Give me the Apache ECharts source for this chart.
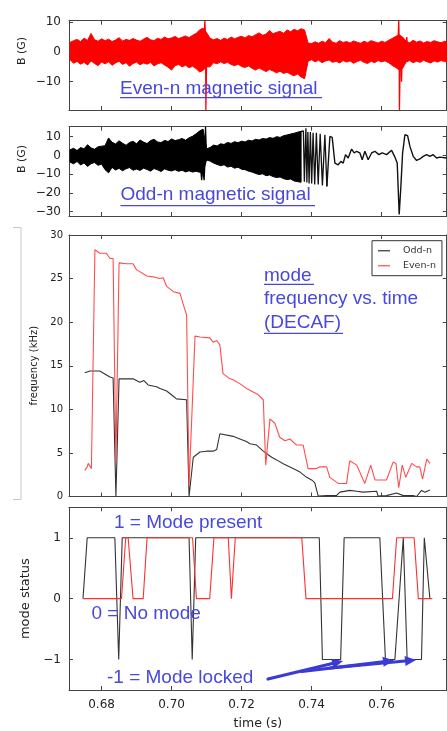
<!DOCTYPE html>
<html><head><meta charset="utf-8">
<script src="https://cdn.jsdelivr.net/npm/echarts@6/dist/echarts.min.js"></script>
<style>html,body{margin:0;padding:0;background:#fff}#c{width:447px;height:731px}</style>
</head><body><div id="c"></div>
<script>
// ---------- axis ranges / ticks ----------
const tMin = 0.6707, tMax = 0.7786;
const timeTicks = [0.68, 0.70, 0.72, 0.74, 0.76];
const evenTicks = [-10, 0, 10];
const oddTicks = [-30, -20, -10, 0, 10];
const freqTicks = [0, 5, 10, 15, 20, 25, 30];
const modeTicks = [-1, 0, 1];

// ---------- magnetic signals: envelope (upper / lower) read at 1 ms steps from 0.671 s ----------
const sigT0 = 0.671, sigStep = 0.001;
const evenHi = [3.2,3.8,4.2,3.5,4.6,3.9,6.2,4.1,3.6,4.4,
  3.8,4.3,3.5,4.0,4.8,3.7,4.2,3.9,4.5,4.0,
  3.6,4.3,4.9,4.1,3.8,4.6,4.2,5.0,4.4,4.7,
  5.2,4.5,4.9,5.4,4.8,5.6,6.2,7.4,8.0,6.5,
  4.6,4.1,4.5,3.9,4.6,4.2,5.0,4.4,4.9,5.3,
  4.7,5.5,5.1,5.8,6.4,5.6,6.0,7.2,6.1,6.6,
  6.9,6.3,7.4,6.8,7.6,7.1,7.8,7.4,3.0,2.8,
  3.4,2.9,3.6,3.1,4.5,3.3,2.9,3.8,3.2,3.5,
  3.0,3.7,3.3,2.9,3.6,3.1,3.8,3.4,3.0,3.6,
  3.2,3.9,4.5,5.2,5.8,5.0,3.6,3.1,3.9,3.3,
  3.7,3.0,3.5,3.2,3.8,3.4,3.1,3.6,3.3];
const evenLo = [-2.6,-3.8,-3.2,-4.1,-3.5,-4.4,-3.0,-3.9,-4.6,-3.4,
  -4.0,-3.3,-4.5,-3.7,-3.1,-4.2,-3.6,-4.8,-3.9,-3.4,
  -4.3,-3.7,-4.1,-3.5,-4.7,-4.0,-3.6,-4.4,-5.1,-6.1,
  -4.6,-4.2,-5.0,-4.5,-5.3,-4.8,-5.6,-6.7,-6.2,-5.0,
  -5.0,-3.6,-4.0,-3.3,-3.9,-3.5,-4.2,-4.6,-4.1,-4.9,
  -5.2,-4.7,-5.5,-6.1,-5.4,-6.0,-6.6,-5.9,-6.4,-7.0,
  -6.5,-7.2,-6.8,-7.5,-8.0,-7.4,-8.4,-9.0,-3.1,-2.6,
  -3.3,-2.8,-3.6,-3.0,-2.7,-3.5,-3.1,-3.7,-2.9,-3.4,
  -3.0,-3.8,-3.2,-2.8,-3.5,-3.9,-3.1,-3.6,-2.9,-3.3,
  -3.0,-3.6,-4.5,-5.2,-6.0,-5.5,-3.4,-2.9,-3.6,-3.1,
  -3.5,-2.8,-3.3,-3.7,-3.0,-3.4,-2.9,-3.2,-3.5];
// narrow spikes (times in s, field in G)
const evenSpike1T = [0.7093,0.7095,0.7097,0.7098,0.7100];
const evenSpike1V = [4,10.5,6,-19.5,-4];
const evenSpike2T = [0.7647,0.7649,0.7650,0.7651,0.7653,0.7655,0.7657,0.7659,0.7670,0.7672,0.7674];
const evenSpike2V = [4,10.5,5,-19.5,-3,5,-10,0,2,5,1];

const oddHi = [3.0,3.8,2.6,4.2,3.5,5.7,4.0,3.3,4.6,4.9,
  5.2,9.3,7.0,6.1,7.8,6.5,5.4,6.9,7.5,6.2,
  8.2,7.1,6.3,7.9,8.6,7.2,6.8,8.0,7.4,8.8,
  7.9,8.4,9.0,8.1,9.4,10.2,11.5,13.0,14.0,3.5,
  4.2,5.5,5.0,6.2,5.8,6.9,6.4,7.3,6.8,7.6,
  7.2,8.1,7.7,8.6,8.2,9.0,8.7,9.5,9.1,10.0,
  9.6,10.5,10.9,11.4,11.8,12.4,12.8];
const oddLo = [-3.6,-4.5,-3.2,-5.1,-4.0,-5.9,-4.4,-3.8,-5.3,-4.6,
  -7.6,-9.3,-6.4,-7.8,-6.9,-8.2,-7.1,-6.5,-7.9,-7.3,
  -8.0,-6.8,-7.5,-8.4,-7.0,-7.7,-8.6,-7.2,-7.9,-8.3,
  -7.6,-8.5,-7.9,-8.8,-8.2,-8.9,-8.4,-9.0,-9.0,-2.5,
  -3.0,-4.1,-4.8,-5.5,-5.0,-6.2,-5.8,-6.8,-6.3,-7.4,
  -7.6,-8.4,-8.9,-9.6,-10.2,-9.8,-10.8,-10.4,-11.3,-11.8,
  -11.5,-12.4,-12.9,-12.6,-13.6,-14.0,-14.3];
const oddSpikeT = [0.7083,0.7086,0.7089,0.7091,0.7093,0.7095,0.7097,0.7099];
const oddSpikeV = [-7,-13.2,-7,-7,-13.2,-5,15.3,4];
const oddChirpT = [0.7370,0.73766,0.73794,0.73837,0.73866,0.73894,0.73929,0.73966,0.74003,0.74043,0.74089,0.74137,0.74189,0.74246,0.74309,0.7438,0.74437];
const oddChirpV = [12.8,13.0,-14.0,14.5,-14.5,12.5,-15.0,12.5,-15.0,12.0,-15.5,12.0,-15.5,11.5,-16.0,11.0,-16.5];
const oddSlowT = [0.74437,0.74523,0.74589,0.74666,0.7476,0.74837,0.74903,0.74971,0.75046,0.75143,0.75217,0.75286,0.7538,0.75446,0.75523,0.75617,0.75714,0.75809,0.75923,0.76017,0.76143,0.76286,0.7638,0.76446,0.76503,0.76551,0.766,0.76666,0.76743,0.76809,0.76903,0.77,0.77094,0.77189,0.77286,0.7738,0.77474,0.77571,0.77666,0.77857];
const oddSlowV = [-16.5,10.1,9.6,-4.1,-5.0,-3.2,-4.1,0.4,-1.4,3.4,1.3,2.2,1.3,-2.3,2.2,-2.3,1.3,2.2,0.4,1.3,0.4,2.7,-0.9,-4.1,-31.5,-16.5,1.3,11.0,10.5,4.8,-0.5,-2.7,-1.9,-0.5,0.4,-0.5,0.4,-1.4,-0.9,-1.4];

// ---------- DECAF frequencies (kHz) ----------
const oddFreqT = [0.6752,0.6767,0.6795,0.6824,0.6833,0.6841,0.6850,0.6890,0.6909,0.6921,0.6933,0.6957,0.6967,0.6986,0.7005,0.7014,0.7043,0.7050,0.7062,0.7081,0.7100,0.7119,0.7129,0.7138,0.7176,0.7195,0.7214,0.7224,0.7243,0.7262,0.7286,0.7300,0.7319,0.7347,0.7367,0.7386,0.7400,0.7409,0.7419,0.7443,0.7471,0.7481,0.7509,0.7529,0.7547,0.7586,0.7590,0.7614,0.7643,0.7662,0.7690,0.7700,0.7714,0.7724,0.7738];
const oddFreqV = [14.2,14.4,14.4,13.7,13.6,0,13.5,13.5,13.1,13.3,12.8,12.6,12.4,12.1,11.5,11.2,11.1,0,4.5,5.1,5.2,5.2,5.4,7.2,6.9,6.6,6.3,6.05,5.9,5.2,4.5,4.2,3.75,3.2,2.8,2.2,1.9,1.6,0.05,0.1,0.1,0.5,0.7,0.6,0.5,0.6,0.05,0.1,0.4,0.1,0.1,0.0,0.7,0.5,0.75];
const evenFreqT = [0.6752,0.6759,0.6762,0.6771,0.6781,0.6795,0.6814,0.6824,0.6833,0.6841,0.6850,0.6871,0.6890,0.6900,0.6909,0.6929,0.6947,0.6967,0.6976,0.6986,0.7005,0.7024,0.7033,0.7043,0.7050,0.7067,0.7081,0.7109,0.7119,0.7129,0.7138,0.7147,0.7167,0.7176,0.7195,0.7214,0.7233,0.7247,0.7262,0.7269,0.7281,0.7295,0.7309,0.7324,0.7338,0.7343,0.7357,0.7376,0.7390,0.7414,0.7424,0.7443,0.7452,0.7476,0.7500,0.7509,0.7529,0.7552,0.7569,0.7581,0.7614,0.7633,0.7641,0.7649,0.7659,0.7669,0.7686,0.7700,0.7709,0.7717,0.7729,0.7738];
const evenFreqV = [3.0,3.4,3.8,3.2,28.3,27.9,27.9,27.3,27.3,3.9,26.8,26.7,26.7,26.0,25.8,25.3,25.2,25.0,25.1,24.1,23.5,23.3,22.1,20.8,1.3,18.4,18.3,18.2,17.7,17.9,17.4,14.1,13.5,13.4,12.95,12.4,12.0,11.7,11.1,3.6,8.9,8.4,6.8,6.4,6.6,6.4,5.9,5.9,3.2,3.2,3.4,3.4,2.2,1.5,1.5,4.1,3.6,1.5,3.6,1.9,1.9,3.95,3.8,1.0,3.6,2.2,3.8,3.4,3.4,2.0,4.3,3.8];

// ---------- mode status ----------
const oddModeT = [0.6747,0.6759,0.6838,0.6849,0.6859,0.7050,0.7059,0.7069,0.7422,0.7431,0.7483,0.7493,0.7595,0.7611,0.7638,0.7662,0.7673,0.7714,0.7722,0.7738];
const oddModeV = [0,1,1,-1,1,1,-1,1,1,-1,-1,1,1,-1,-1,1,-1,-1,1,0];
const evenModeT = [0.6747,0.6857,0.6869,0.6876,0.6890,0.6919,0.6930,0.7060,0.7071,0.7109,0.7121,0.7162,0.7171,0.7182,0.7372,0.7384,0.7631,0.7643,0.7693,0.7705,0.7745];
const evenModeV = [0,0,1,1,0,0,1,1,0,0,1,1,0,1,1,0,0,1,1,0,0];

// ---------- helpers ----------
const zip = (a, b) => a.map((v, i) => [v, b[i]]);
const sampleTimes = n => Array.from({length: n}, (_, i) => sigT0 + i * sigStep);
const FONT = 'DejaVu Sans';
const AX = '#444';
const BLUE = '#4848dc';
const minus = v => String(v).replace('-', '\u2212');

const grids = [
  {left: 69, top: 20.7, width: 377.7, height: 89.3},
  {left: 69, top: 126.7, width: 377.7, height: 89.3},
  {left: 69, top: 235, width: 377.7, height: 261.5},
  {left: 69, top: 507.3, width: 377.7, height: 184}
];

function xAxes(gi, showLabels) {
  const common = {type: 'value', gridIndex: gi, min: tMin, max: tMax,
    axisLine: {show: true, onZero: false, lineStyle: {color: AX, width: 1}},
    axisTick: {show: true, inside: true, length: 4, customValues: timeTicks, lineStyle: {color: AX}},
    splitLine: {show: false}};
  return [
    Object.assign({}, common, {position: 'bottom',
      axisLabel: {show: showLabels, customValues: timeTicks, formatter: v => v.toFixed(2), fontFamily: FONT, fontSize: 12, color: '#222', margin: 9},
      name: showLabels ? 'time (s)' : '', nameLocation: 'middle', nameGap: 27,
      nameTextStyle: {fontFamily: FONT, fontSize: 12.5, color: '#222'}}),
    Object.assign({}, common, {position: 'top', axisLabel: {show: false}})
  ];
}
function yAxes(gi, min, max, ticks, fs, margin, name, nameGap, nameFs) {
  const common = {type: 'value', gridIndex: gi, min: min, max: max,
    axisLine: {show: true, onZero: false, lineStyle: {color: AX, width: 1}},
    axisTick: {show: true, inside: true, length: 4, customValues: ticks, lineStyle: {color: AX}},
    splitLine: {show: false}};
  return [
    Object.assign({}, common, {position: 'left',
      axisLabel: {customValues: ticks, formatter: minus, fontFamily: FONT, fontSize: fs, color: '#222', margin: margin},
      name: name || '', nameLocation: 'middle', nameGap: nameGap || 0,
      nameTextStyle: {fontFamily: FONT, fontSize: nameFs || 12, color: '#222'}}),
    Object.assign({}, common, {position: 'right', axisLabel: {show: false}})
  ];
}

function arrow(x0, y0, x1, y1) {
  const L = Math.hypot(x1 - x0, y1 - y0), ux = (x1 - x0) / L, uy = (y1 - y0) / L;
  const hl = 11, hw = 5;
  const bx = x1 - ux * hl, by = y1 - uy * hl;
  return [
    {type: 'line', shape: {x1: x0, y1: y0, x2: bx, y2: by}, style: {stroke: '#3b3bd4', lineWidth: 3.2, lineCap: 'round'}, z: 10},
    {type: 'polygon', shape: {points: [[x1, y1], [bx - uy * hw, by + ux * hw], [bx + uy * hw, by - ux * hw]]}, style: {fill: '#3b3bd4'}, z: 10}
  ];
}
function label(text, x, y) {
  return {type: 'text', x: x, y: y, z: 10, style: {text: text, fill: BLUE, font: '19px "Liberation Sans"', textAlign: 'left', textVerticalAlign: 'middle'}};
}
function uline(x1, x2, y) {
  return {type: 'line', z: 10, shape: {x1: x1, y1: y, x2: x2, y2: y}, style: {stroke: BLUE, lineWidth: 1.2}};
}
function lineSeries(name, xi, data, color, width, legendColor) {
  return {name: name, type: 'line', xAxisIndex: xi, yAxisIndex: xi, showSymbol: false, symbol: 'none',
    data: data, lineStyle: {color: color, width: width}, itemStyle: {color: legendColor || color}};
}
// filled band between lower and upper envelope, drawn through the axes (api.coord)
function bandSeries(name, xi, hi, lo, color) {
  const t = sampleTimes(hi.length);
  return {
    name: name, type: 'custom', xAxisIndex: xi, yAxisIndex: xi,
    data: t.map((v, i) => [v, hi[i], lo[i]]),
    encode: {x: 0, y: [1, 2]},
    renderItem: function (params, api) {
      if (params.dataIndex !== 0) return null;
      const pts = [];
      for (let i = 0; i < t.length; i++) pts.push(api.coord([t[i], hi[i]]));
      for (let i = t.length - 1; i >= 0; i--) pts.push(api.coord([t[i], lo[i]]));
      const cs = params.coordSys;
      return {
        type: 'group',
        clipPath: {type: 'rect', shape: {x: cs.x, y: cs.y, width: cs.width, height: cs.height}},
        children: [{type: 'polygon', shape: {points: pts}, style: {fill: color, stroke: color, lineWidth: 1, lineJoin: 'miter'}}]
      };
    }
  };
}

const chart = echarts.init(document.getElementById('c'), null, {renderer: 'canvas'});
const option = {
  animation: false,
  backgroundColor: '#fff',
  grid: grids,
  xAxis: [].concat(xAxes(0, false), xAxes(1, false), xAxes(2, false), xAxes(3, true)),
  yAxis: [].concat(
    yAxes(0, -19.5, 10.5, evenTicks, 12, 8),
    yAxes(1, -32.3, 15.3, oddTicks, 12, 8),
    yAxes(2, 0, 30, freqTicks, 10, 6, 'frequency (kHz)', 26, 10),
    yAxes(3, -1.5, 1.5, modeTicks, 12, 8, 'mode status', 27, 13)
  ),
  legend: {
    data: [
      {name: 'Odd-n', icon: 'rect', itemStyle: {color: '#555'}},
      {name: 'Even-n', icon: 'rect', itemStyle: {color: '#ff6a6a'}}
    ],
    orient: 'vertical', left: 372, top: 240.7, itemWidth: 12, itemHeight: 1.5, itemGap: 5,
    padding: [5, 6, 5, 6], borderColor: '#333', borderWidth: 1, backgroundColor: '#fff',
    textStyle: {fontFamily: FONT, fontSize: 9.5, color: '#333', padding: [0, 0, 0, 8]}
  },
  series: [
    bandSeries('Even-n magnetic signal', 0, evenHi, evenLo, '#ff0000'),
    lineSeries('Even-n spike 1', 0, zip(evenSpike1T, evenSpike1V), '#ff0000', 1.3),
    lineSeries('Even-n spike 2', 0, zip(evenSpike2T, evenSpike2V), '#ff0000', 1.3),
    bandSeries('Odd-n magnetic signal', 2, oddHi, oddLo, '#000000'),
    lineSeries('Odd-n spikes', 2, zip(oddSpikeT, oddSpikeV), '#000', 1.3),
    lineSeries('Odd-n chirp', 2, zip(oddChirpT, oddChirpV), '#111', 1.3),
    lineSeries('Odd-n slow', 2, zip(oddSlowT, oddSlowV), '#111', 1.4),
    lineSeries('Odd-n', 4, zip(oddFreqT, oddFreqV), '#333', 1.1, '#555'),
    lineSeries('Even-n', 4, zip(evenFreqT, evenFreqV), '#ff4d4d', 1.1, '#ff6a6a'),
    lineSeries('Odd-n', 6, zip(oddModeT, oddModeV), '#333', 1.1, '#555'),
    lineSeries('Even-n', 6, zip(evenModeT, evenModeV), '#ff3030', 1.1, '#ff6a6a')
  ],
  graphic: [
    {type: 'polyline', shape: {points: [[13, 227.5], [21, 227.5], [21, 499.5], [13, 499.5]]}, style: {stroke: '#c8c8c8', lineWidth: 1, fill: null}},
    {type: 'text', x: 22, y: 51, rotation: Math.PI / 2, style: {text: 'B (G)', fill: '#222', font: '11px "DejaVu Sans"', textAlign: 'center', textVerticalAlign: 'middle'}},
    {type: 'text', x: 22, y: 159, rotation: Math.PI / 2, style: {text: 'B (G)', fill: '#222', font: '11px "DejaVu Sans"', textAlign: 'center', textVerticalAlign: 'middle'}},
    label('Even-n magnetic signal', 120, 88.5), uline(120, 322, 97.7),
    label('Odd-n magnetic signal', 120.5, 195), uline(120.5, 315, 205.7),
    label('mode', 264, 276), uline(264, 314, 284.3),
    label('frequency vs. time', 264, 298.5),
    label('(DECAF)', 264, 323), uline(264, 343, 333.3),
    label('1 = Mode present', 114, 523),
    label('0 = No mode', 91.5, 613.5),
    label('-1 = Mode locked', 107, 677.5)
  ].concat(arrow(268, 679, 343, 661), arrow(302, 671.5, 394, 660.5), arrow(330, 668, 416, 660))
};
chart.setOption(option);
</script>
</body></html>
